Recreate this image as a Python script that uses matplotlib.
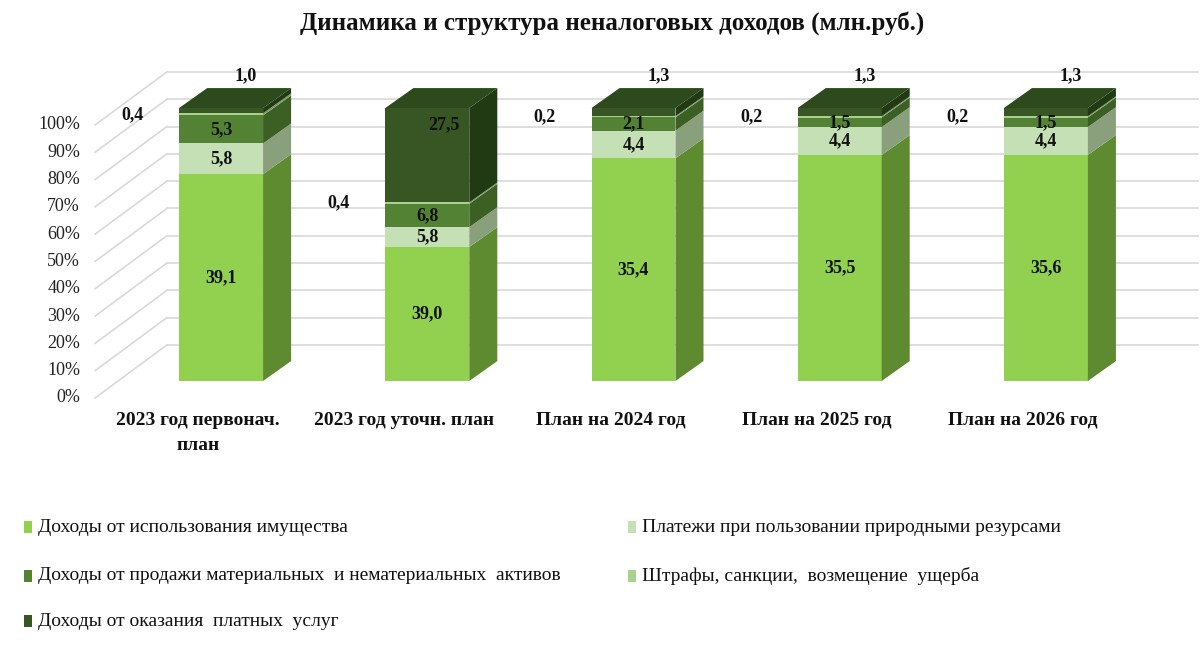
import matplotlib
matplotlib.use("Agg")
import matplotlib.pyplot as plt
from matplotlib.patches import Polygon, Rectangle
from matplotlib.transforms import offset_copy

plt.rcParams['font.family'] = ['Liberation Serif', 'DejaVu Serif']

categories = ['2023 год первонач.\nплан', '2023 год уточн. план', 'План на 2024 год',
              'План на 2025 год', 'План на 2026 год']
series_names = ['Доходы от использования имущества',
                'Платежи при пользовании природными резурсами',
                'Доходы от продажи материальных  и нематериальных  активов',
                'Штрафы, санкции,  возмещение  ущерба',
                'Доходы от оказания  платных  услуг']
property_inc = [39.1, 39.0, 35.4, 35.5, 35.6]
natural_res = [5.8, 5.8, 4.4, 4.4, 4.4]
asset_sales = [5.3, 6.8, 2.1, 1.5, 1.5]
fines = [0.4, 0.4, 0.2, 0.2, 0.2]
paid_services = [1.0, 27.5, 1.3, 1.3, 1.3]
y_ticks = [0, 10, 20, 30, 40, 50, 60, 70, 80, 90, 100]
title = 'Динамика и структура неналоговых доходов (млн.руб.)'

series = [property_inc, natural_res, asset_sales, fines, paid_services]
front_cols = ['#92d050', '#c5e0b4', '#548235', '#a9d18e', '#375623']
side_cols = ['#5e8a30', '#8aa07c', '#3c6024', '#7d9c68', '#213a14']
top_col = '#2d4a1c'
legend_cols = ['#92d050', '#c5e0b4', '#548235', '#a9d18e', '#375623']

# 3D-like projection constants (data units)
BAR_W = 0.407
DX, DY = 0.136, 7.3          # bar depth
WX, WY = 0.237, 13.2         # back wall offset
FX, FY = -0.111, -6.2        # front axis plane offset

fig = plt.figure(figsize=(12, 6.5), dpi=100)
ax = fig.add_axes([118/1200, 1 - 381/650, 1031/1200, 273/650])
ax.set_xlim(-0.5, 4.5)
ax.set_ylim(0, 100)
ax.axis('off')

grid_c = '#d9d9d9'
for t in y_ticks:
    ax.plot([-0.5 + WX, 4.5 + WX], [t + WY, t + WY], color=grid_c, lw=1.2,
            zorder=0, clip_on=False)
    ax.plot([-0.5 + FX, -0.5 + WX], [t + FY, t + WY], color=grid_c, lw=1.2,
            zorder=0, clip_on=False)
    tr = offset_copy(ax.transData, fig=fig, x=-15, y=0, units='dots')
    ax.text(-0.5 + FX, t + FY, f'{t}%', transform=tr, ha='right', va='center',
            fontsize=13, color='#222222')

n = len(categories)
totals = [sum(s[i] for s in series) for i in range(n)]

def fmt(v):
    return f'{v:.1f}'.replace('.', ',')

for i in range(n):
    xl = i - BAR_W / 2
    xr = i + BAR_W / 2
    bottom = 0.0
    for k, s in enumerate(series):
        h = s[i] / totals[i] * 100
        ax.bar(i, h, bottom=bottom, width=BAR_W, color=front_cols[k],
               edgecolor='none', zorder=3)
        side = Polygon([(xr, bottom), (xr + DX, bottom + DY),
                        (xr + DX, bottom + h + DY), (xr, bottom + h)],
                       closed=True, facecolor=side_cols[k], edgecolor='none',
                       zorder=3, clip_on=False)
        ax.add_patch(side)
        mid = bottom + h / 2
        lab = fmt(s[i])
        kw = dict(ha='center', va='center', fontsize=13, fontweight='bold',
                  color='#111111', zorder=6, clip_on=False)
        if k == 3:
            ax.text(i - 0.43, mid, lab, **kw)
        elif k == 4:
            if h > 20:
                ax.text(i + 0.08, bottom + h * 0.82, lab, **kw)
            else:
                ax.text(i + 0.12, 100 + DY + 4.5, lab, **kw)
        else:
            ax.text(i, mid, lab, **kw)
        bottom += h
    top = Polygon([(xl, 100), (xl + DX, 100 + DY), (xr + DX, 100 + DY), (xr, 100)],
                  closed=True, facecolor=top_col, edgecolor='none', zorder=4,
                  clip_on=False)
    ax.add_patch(top)
    tr = offset_copy(ax.transData, fig=fig, x=0, y=-14, units='dots')
    ax.text(i + FX, FY, categories[i], transform=tr, ha='center', va='top',
            fontsize=14, fontweight='bold', linespacing=1.6, color='#111111')

fig.text(612/1200, 1 - 23/650, title, ha='center', va='center', fontsize=18,
         fontweight='bold', color='#111111')

# legend
leg_pos = [(28, 527), (632, 527), (28, 576), (632, 576), (28, 621)]
for k, (px, py) in enumerate(leg_pos):
    fig.patches.append(Rectangle((px / 1200 - 4/1200, 1 - py / 650 - 6/650), 8/1200, 12/650,
                                 transform=fig.transFigure, facecolor=legend_cols[k],
                                 edgecolor='none'))
    fig.text((px + 10) / 1200, 1 - py / 650, series_names[k], ha='left', va='center',
             fontsize=14, color='#111111')

fig.savefig('out.png', dpi=100, facecolor='white')
